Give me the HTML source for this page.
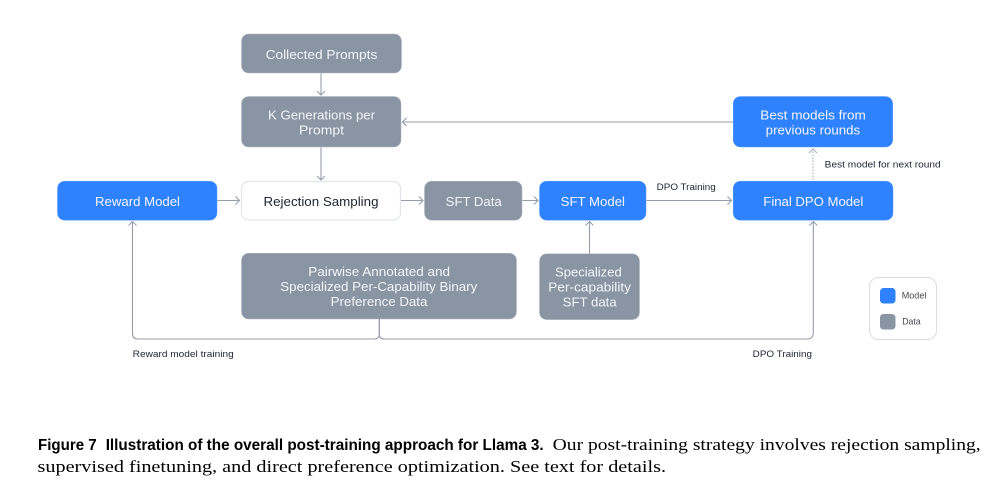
<!DOCTYPE html>
<html><head><meta charset="utf-8"><style>
html,body{margin:0;padding:0;background:#fff;width:997px;height:486px;overflow:hidden}
svg{display:block}
.s{font-family:"Liberation Sans",sans-serif}
.w{fill:#f4f6f9;font-size:12.800px}
.d{fill:#1c2430;font-size:12.800px}
.l{fill:#1c2430;font-size:9.500px}
.c{fill:none;stroke:#949eab;stroke-width:1.100}
.g{fill:#8a95a4;stroke:#aeb5c0;stroke-width:.5}
.b{fill:#2e82ff;stroke:#5a9cff;stroke-width:.5}
</style></head><body>
<svg width="997" height="486" viewBox="0 0 997 486" xmlns="http://www.w3.org/2000/svg">
<rect x="241.500" y="34" width="160" height="39" rx="7" class="g"/>
<rect x="241.500" y="96.500" width="159.500" height="50.500" rx="7" class="g"/>
<rect x="241.500" y="181.500" width="159" height="38.500" rx="7" fill="#fff" stroke="#e2e6ec" stroke-width="1.200"/>
<rect x="57.500" y="181.200" width="159.500" height="39" rx="7" class="b"/>
<rect x="424.500" y="181.200" width="97.500" height="39" rx="7" class="g"/>
<rect x="539.500" y="181.200" width="106.500" height="39" rx="7" class="b"/>
<rect x="733.200" y="181.200" width="159.800" height="39" rx="7" class="b"/>
<rect x="733.200" y="96.500" width="159.500" height="50.500" rx="7" class="b"/>
<rect x="241.500" y="253.200" width="275" height="65.800" rx="7" class="g"/>
<rect x="539.500" y="253.800" width="100" height="65.800" rx="7" class="g"/>
<rect x="869.500" y="277.500" width="67" height="62" rx="9" fill="#fff" stroke="#d9dde3" stroke-width="1"/>
<rect x="880" y="288" width="15.500" height="15.500" rx="3.500" fill="#2e82ff"/>
<rect x="880" y="314" width="15.500" height="15.500" rx="3.500" fill="#8a95a4"/>

<g class="c">
<path d="M321 73.500V95M317 91L321 95L325 91"/>
<path d="M321 147.500V180M317 176L321 180L325 176"/>
<path d="M217.500 200.500H239.500M235.500 196.500L239.500 200.500L235.500 204.500"/>
<path d="M401 200.500H423M419 196.500L423 200.500L419 204.500"/>
<path d="M522.500 200.500H538M534 196.500L538 200.500L534 204.500"/>
<path d="M646.500 200.500H731.500M727.500 196.500L731.500 200.500L727.500 204.500"/>
<path d="M733 122H402.500M406.500 118L402.500 122L406.500 126"/>
<path d="M589.500 253.500V221.500M585.500 225.500L589.500 221.500L593.500 225.500"/>
<path d="M379.300 319V334Q379.300 339 374.300 339H138Q132.500 339 132.500 333.500V221.500M128.500 225.500L132.500 221.500L136.500 225.500"/>
<path d="M379.300 319V334Q379.300 339 384.300 339H807Q813.300 339 813.300 332.700V221.500M809.300 225.500L813.300 221.500L817.300 225.500"/>
<path d="M813 180V149" stroke="#a8b0bb" stroke-dasharray="1.500 1.500"/>
<path d="M809 153L813 149L817 153" stroke="#a8b0bb"/>
</g>

<g class="s">
<text x="265.700" y="59" class="w" textLength="111.600" lengthAdjust="spacingAndGlyphs">Collected Prompts</text>
<text x="268" y="119.500" class="w" textLength="107" lengthAdjust="spacingAndGlyphs">K Generations per</text>
<text x="299" y="134.500" class="w" textLength="45" lengthAdjust="spacingAndGlyphs">Prompt</text>
<text x="95" y="206" class="w" textLength="85" lengthAdjust="spacingAndGlyphs">Reward Model</text>
<text x="263.500" y="206" class="d" textLength="115" lengthAdjust="spacingAndGlyphs">Rejection Sampling</text>
<text x="445.700" y="206" class="w" textLength="56" lengthAdjust="spacingAndGlyphs">SFT Data</text>
<text x="560.700" y="206" class="w" textLength="64.300" lengthAdjust="spacingAndGlyphs">SFT Model</text>
<text x="763.300" y="206" class="w" textLength="100" lengthAdjust="spacingAndGlyphs">Final DPO Model</text>
<text x="760.300" y="119.500" class="w" textLength="105.500" lengthAdjust="spacingAndGlyphs">Best models from</text>
<text x="765.700" y="134.500" class="w" textLength="94.500" lengthAdjust="spacingAndGlyphs">previous rounds</text>
<text x="308.300" y="276" class="w" textLength="141.700" lengthAdjust="spacingAndGlyphs">Pairwise Annotated and</text>
<text x="280.300" y="291" class="w" textLength="197" lengthAdjust="spacingAndGlyphs">Specialized Per-Capability Binary</text>
<text x="330.700" y="306" class="w" textLength="96.700" lengthAdjust="spacingAndGlyphs">Preference Data</text>
<text x="555" y="276.700" class="w" textLength="66.700" lengthAdjust="spacingAndGlyphs">Specialized</text>
<text x="548.300" y="291.700" class="w" textLength="82.700" lengthAdjust="spacingAndGlyphs">Per-capability</text>
<text x="562.700" y="306.700" class="w" textLength="54" lengthAdjust="spacingAndGlyphs">SFT data</text>
<text x="656.700" y="190" class="l" textLength="59" lengthAdjust="spacingAndGlyphs">DPO Training</text>
<text x="824.700" y="167.700" class="l" textLength="116" lengthAdjust="spacingAndGlyphs">Best model for next round</text>
<text x="132.700" y="357" class="l" textLength="101" lengthAdjust="spacingAndGlyphs">Reward model training</text>
<text x="752.700" y="357" class="l" textLength="59.300" lengthAdjust="spacingAndGlyphs">DPO Training</text>
<text x="901.700" y="298.700" class="l" fill-opacity=".85" textLength="24.700" lengthAdjust="spacingAndGlyphs">Model</text>
<text x="902.200" y="324.700" class="l" fill-opacity=".85" textLength="18.500" lengthAdjust="spacingAndGlyphs">Data</text>
<text x="38" y="450" font-size="15.500" font-weight="bold" fill="#000" textLength="58.700" lengthAdjust="spacingAndGlyphs">Figure 7</text>
<text x="105.700" y="450" font-size="15.500" font-weight="bold" fill="#000" textLength="438" lengthAdjust="spacingAndGlyphs">Illustration of the overall post-training approach for Llama 3.</text>
</g>
<g font-family="'Liberation Serif',serif" font-size="17" fill="#000">
<text x="552.700" y="450" textLength="428" lengthAdjust="spacingAndGlyphs">Our post-training strategy involves rejection sampling,</text>
<text x="37.500" y="472" textLength="628.500" lengthAdjust="spacingAndGlyphs">supervised finetuning, and direct preference optimization. See text for details.</text>
</g>
</svg>
</body></html>
